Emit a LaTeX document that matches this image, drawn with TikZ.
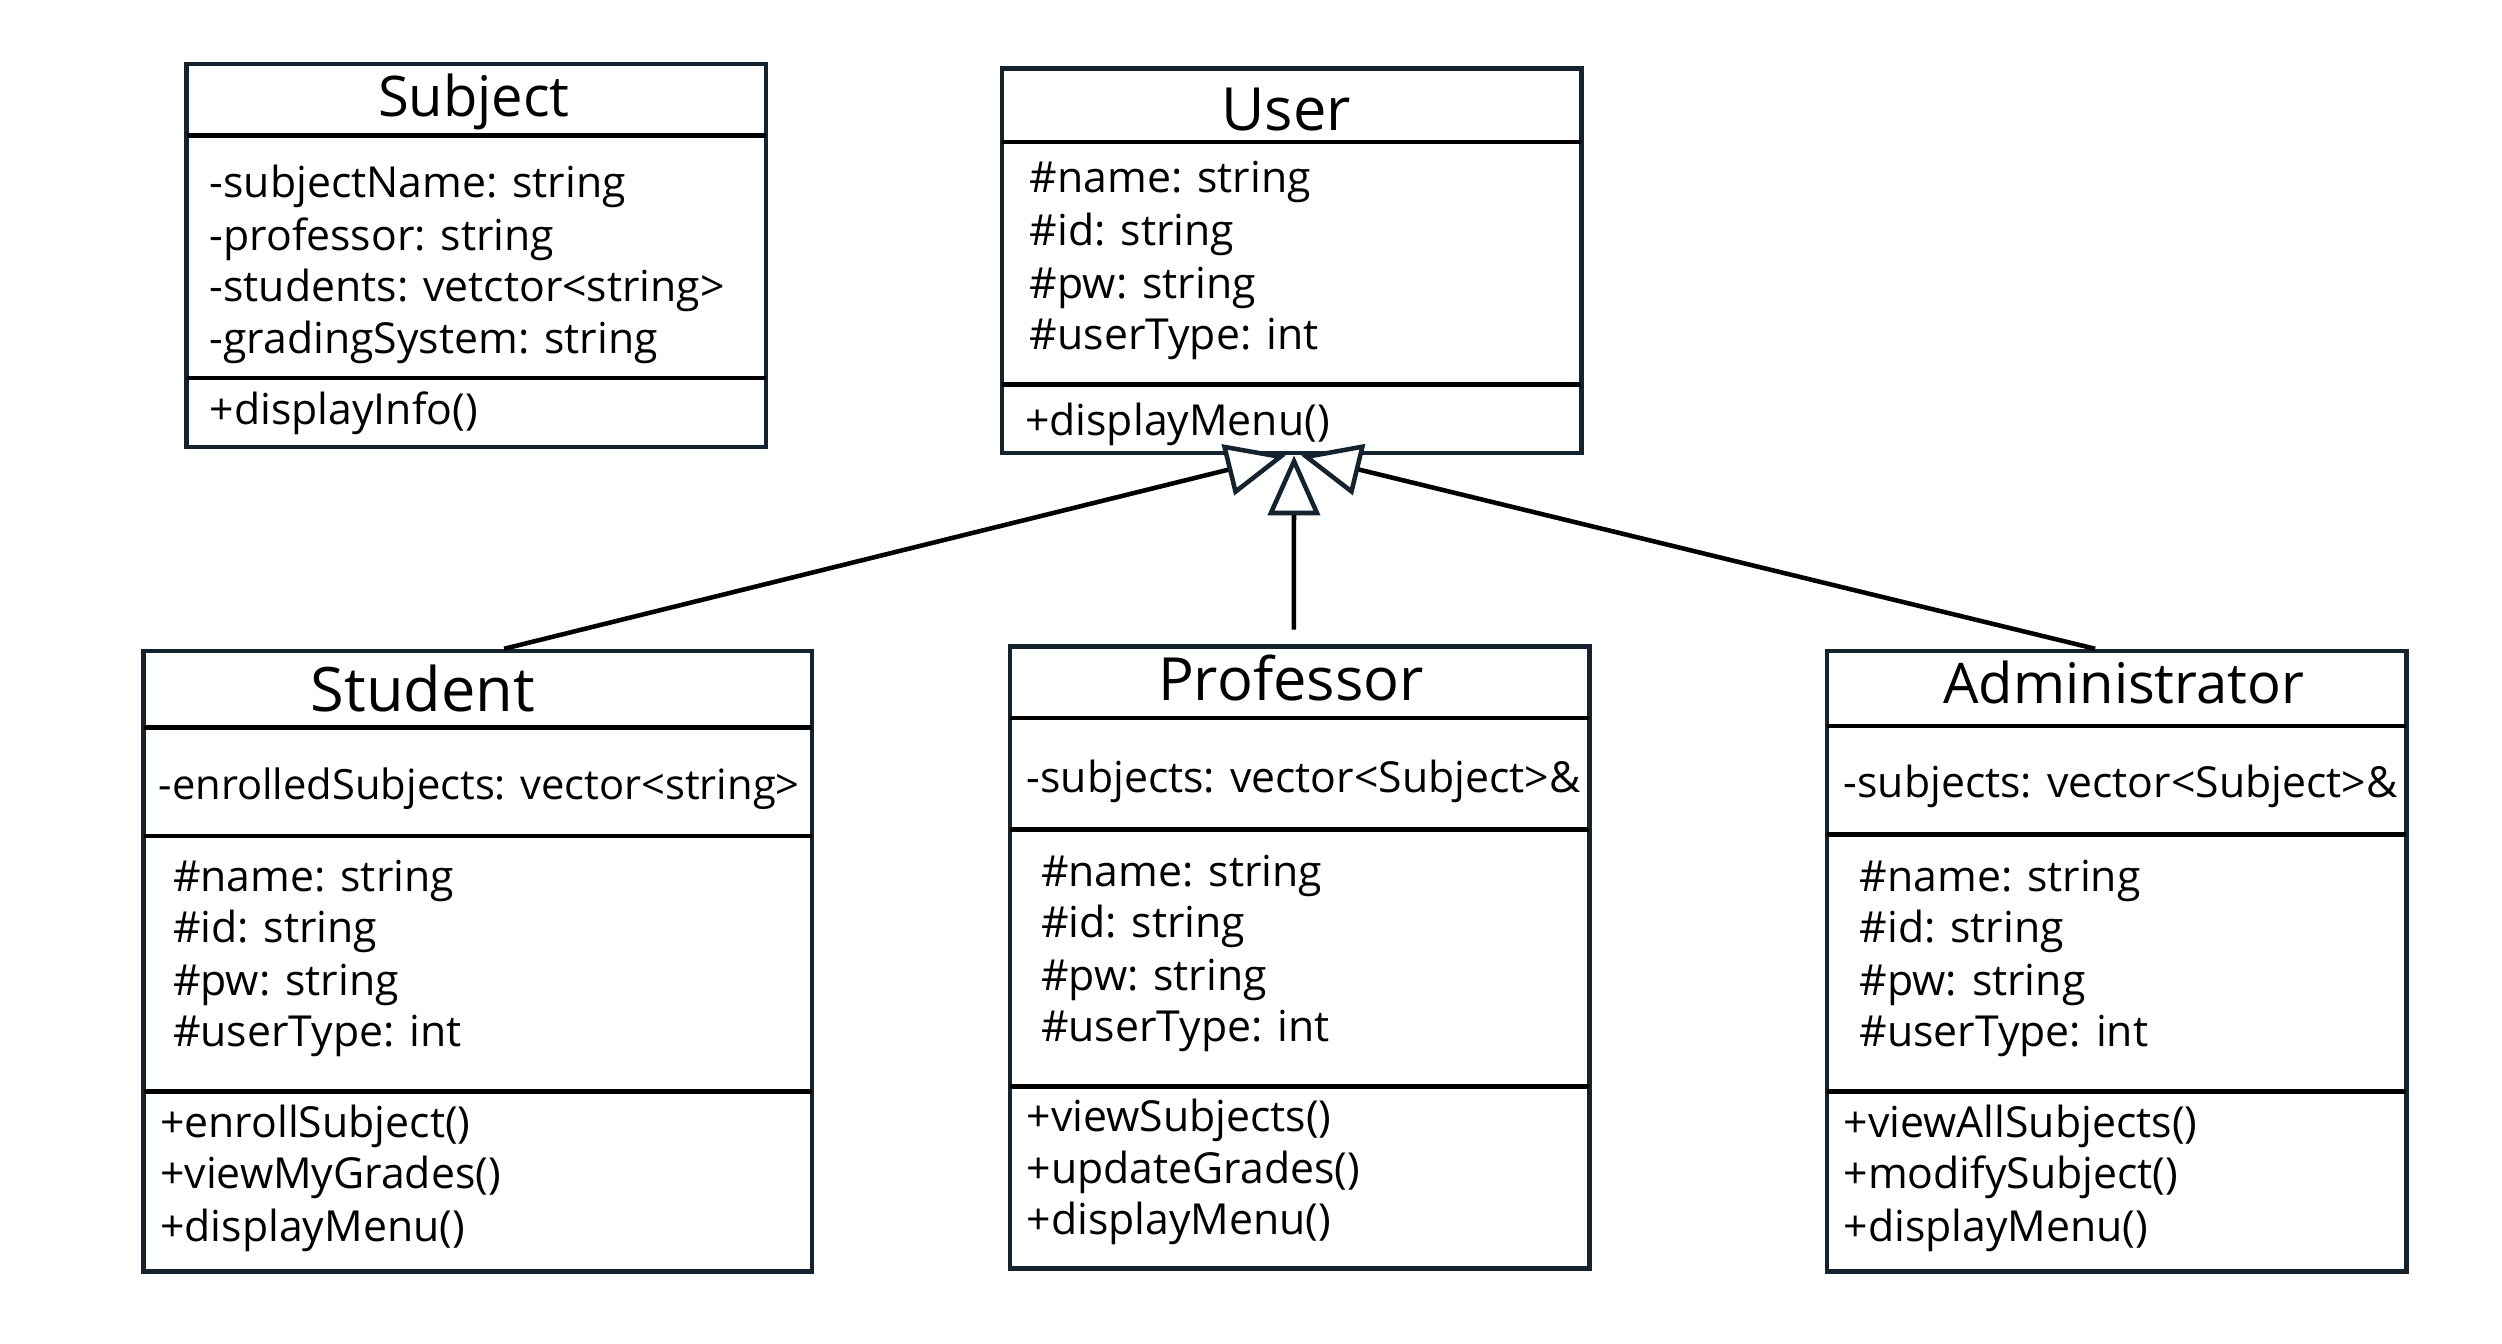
\documentclass[tikz,border=0pt]{standalone}
\usepackage{fontspec}
\setmainfont{Open Sans}
\usetikzlibrary{fit,arrows.meta,calc}
\definecolor{boxcol}{HTML}{15232F}
\begin{document}
\begin{tikzpicture}[x=0.016cm,y=-0.016cm,
  classbox/.style={draw=boxcol, line width=1.3pt, inner sep=0pt},
  divider/.style={draw=black, line width=1.3pt},
  ctitle/.style={anchor=base, inner sep=0pt},
  member/.style={anchor=base west, inner sep=0pt, yshift=-0.045cm, font=\fontsize{12.2}{14}\selectfont},
  inherit/.style={draw=black, line width=1.3pt,
    -{Triangle[length=0.6cm, width=0.52cm, color=boxcol, fill=white]}}
]
\useasboundingbox (0,0) rectangle (1568,842);

% ---------- Subject ----------
\node[classbox, fit={(117,40) (480,280)}] (subject) {};
\draw[divider] (117,85) -- (480,85);
\draw[divider] (117,237) -- (480,237);
\node[ctitle, font=\fontsize{16}{19}\selectfont] (subjectT) at (297,73) {Subject};
\node[member] (subjectA1) at (131,121) {-subjectName: string};
\node[member] (subjectA2) at (131,154) {-professor: string};
\node[member] (subjectA3) at (131,186) {-students: vetctor<string>};
\node[member] (subjectA4) at (131,219) {-gradingSystem: string};
\node[member] (subjectM1) at (131,263) {+displayInfo()};

% ---------- User ----------
\node[classbox, fit={(628,43) (991,284)}] (user) {};
\draw[divider] (628,89) -- (991,89);
\draw[divider] (628,241) -- (991,241);
\node[ctitle, font=\fontsize{17}{20}\selectfont] (userT) at (806,82) {User};
\node[member] (userA1) at (645,118) {\#name: string};
\node[member] (userA2) at (645,151) {\#id: string};
\node[member] (userA3) at (645,184) {\#pw: string};
\node[member] (userA4) at (645,216) {\#userType: int};
\node[member] (userM1) at (642,270) {+displayMenu()};

% ---------- Student ----------
\node[classbox, fit={(90,408) (509,797)}] (student) {};
\draw[divider] (90,456) -- (509,456);
\draw[divider] (90,524) -- (509,524);
\draw[divider] (90,684) -- (509,684);
\node[ctitle, font=\fontsize{17.5}{20}\selectfont] (studentT) at (265,446) {Student};
\node[member, font=\fontsize{11.9}{14}\selectfont] (studentB1) at (99,498) {-enrolledSubjects: vector<string>};
\node[member] (studentA1) at (108,556) {\#name: string};
\node[member] (studentA2) at (108,588) {\#id: string};
\node[member] (studentA3) at (108,621) {\#pw: string};
\node[member] (studentA4) at (108,653) {\#userType: int};
\node[member] (studentM1) at (100,710) {+enrollSubject()};
\node[member] (studentM2) at (100,742) {+viewMyGrades()};
\node[member] (studentM3) at (100,775) {+displayMenu()};

% ---------- Professor ----------
\node[classbox, fit={(633,405) (996,795)}] (prof) {};
\draw[divider] (633,450) -- (996,450);
\draw[divider] (633,520) -- (996,520);
\draw[divider] (633,681) -- (996,681);
\node[ctitle, font=\fontsize{17}{20}\selectfont] (profT) at (809,439) {Professor};
\node[member] (profB1) at (643,494) {-subjects: vector<Subject>\&};
\node[member] (profA1) at (652,553) {\#name: string};
\node[member] (profA2) at (652,585) {\#id: string};
\node[member] (profA3) at (652,618) {\#pw: string};
\node[member] (profA4) at (652,650) {\#userType: int};
\node[member] (profM1) at (643,706) {+viewSubjects()};
\node[member] (profM2) at (643,739) {+updateGrades()};
\node[member] (profM3) at (643,771) {+displayMenu()};

% ---------- Administrator ----------
\node[classbox, fit={(1145,408) (1508,797)}] (admin) {};
\draw[divider] (1145,455) -- (1508,455);
\draw[divider] (1145,523) -- (1508,523);
\draw[divider] (1145,684) -- (1508,684);
\node[ctitle, font=\fontsize{16}{19}\selectfont] (adminT) at (1331,441) {Administrator};
\node[member] (adminB1) at (1155,497) {-subjects: vector<Subject>\&};
\node[member] (adminA1) at (1165,556) {\#name: string};
\node[member] (adminA2) at (1165,588) {\#id: string};
\node[member] (adminA3) at (1165,621) {\#pw: string};
\node[member] (adminA4) at (1165,653) {\#userType: int};
\node[member] (adminM1) at (1155,710) {+viewAllSubjects()};
\node[member] (adminM2) at (1155,742) {+modifySubject()};
\node[member] (adminM3) at (1155,775) {+displayMenu()};

% ---------- Generalisation connectors ----------
\coordinate (stuStart) at ($(student.north west)!0.539!(student.north east)$);
\coordinate (proStart) at ($(prof.north west)!0.49!(prof.north east)+(0,-9)$);
\coordinate (admStart) at ($(admin.north west)!0.463!(admin.north east)$);
\coordinate (tipS) at ($(user.south west)!0.49!(user.south east)$);
\coordinate (tipP) at ($(user.south west)!0.504!(user.south east)$);
\coordinate (tipA) at ($(user.south west)!0.516!(user.south east)$);

\draw[inherit] (stuStart) -- (tipS);
\draw[inherit] (admStart) -- (tipA);
\draw[inherit] (proStart) -- (tipP);
\end{tikzpicture}
\end{document}
